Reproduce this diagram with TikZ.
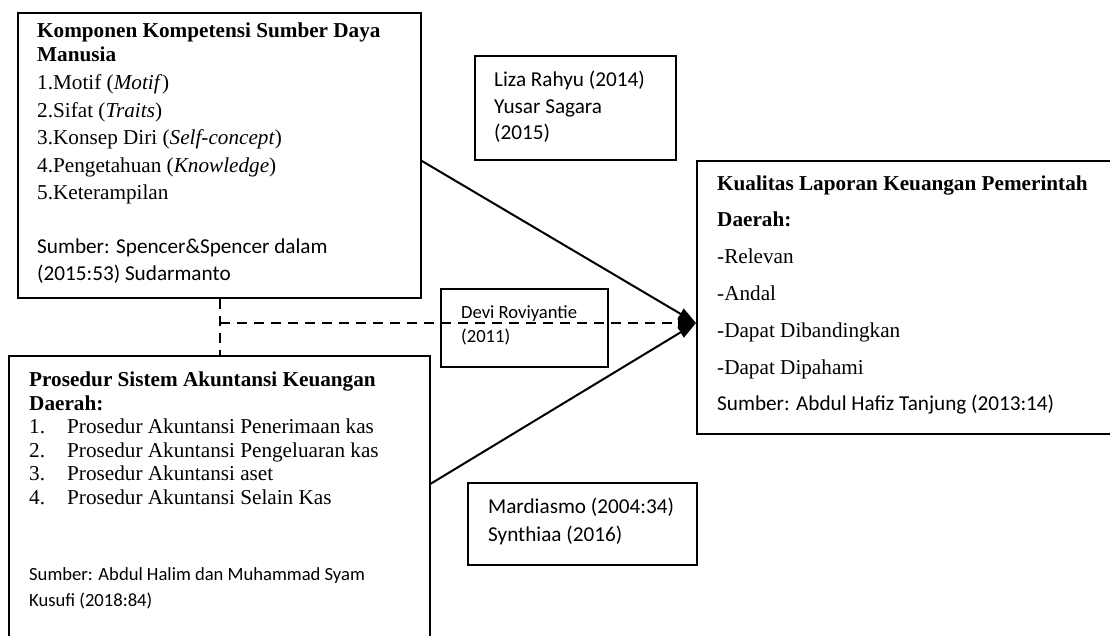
\documentclass[tikz,border=0pt]{standalone}
\usepackage{fontspec}
\setmainfont{Liberation Serif}
\newfontfamily\calfont{Carlito}
\usetikzlibrary{arrows.meta}
\begin{document}
\begin{tikzpicture}[x=1pt,y=-1pt,
  box/.style={draw=black,line width=1.6pt,inner sep=0pt,anchor=north west},
  tx/.style={anchor=base west,inner sep=0pt,font=\fontsize{21.2}{25}\selectfont},
  bx/.style={anchor=base west,inner sep=0pt,font=\bfseries\fontsize{21.2}{25}\selectfont},
  cx/.style={anchor=base west,inner sep=0pt,font=\calfont\fontsize{21.2}{25}\selectfont},
  sx/.style={anchor=base west,inner sep=0pt,font=\calfont\fontsize{18.6}{22}\selectfont},
  link/.style={line width=2pt,-{Triangle[length=18pt,width=12pt]}},
  dashlink/.style={line width=2.4pt,dash pattern=on 10pt off 7pt},
]
\useasboundingbox (0,0) rectangle (1110,635);
\clip (0,0) rectangle (1110,635);

% boxes
\node[box,minimum width=403pt,minimum height=285pt] (b1) at (17,12) {};
\node[box,minimum width=421pt,minimum height=300pt] (b2) at (8,355) {};
\node[box,minimum width=430pt,minimum height=273pt] (b3) at (696,160) {};
\node[box,minimum width=201pt,minimum height=104pt] (b4) at (474,55) {};
\node[box,minimum width=167pt,minimum height=78pt] (b5) at (440,288) {};
\node[box,minimum width=229pt,minimum height=82pt] (b6) at (467,482) {};

% box 1 text
\node[bx] (t1a) at (37,37) {Komponen Kompetensi Sumber Daya};
\node[bx] (t1b) at (37,61) {Manusia};
\node[tx] (t1c) at (37,89) {1.Motif (\textit{Motif})};
\node[tx] (t1d) at (37,117) {2.Sifat (\textit{Traits})};
\node[tx] (t1e) at (37,144) {3.Konsep Diri (\textit{Self-concept})};
\node[tx] (t1f) at (37,172) {4.Pengetahuan (\textit{Knowledge})};
\node[tx] (t1g) at (37,199) {5.Keterampilan};
\node[cx] (t1h) at (37,253) {Sumber: Spencer\&Spencer dalam};
\node[cx] (t1i) at (37,280) {(2015:53) Sudarmanto};

% box 2 text
\node[bx] (t2a) at (29,386) {Prosedur Sistem Akuntansi Keuangan};
\node[bx] (t2b) at (29,410) {Daerah:};
\node[tx] (n1) at (29,433) {1.};
\node[tx] (n2) at (29,457) {2.};
\node[tx] (n3) at (29,480) {3.};
\node[tx] (n4) at (29,504) {4.};
\node[tx] (t2c) at (67,433) {Prosedur Akuntansi Penerimaan kas};
\node[tx] (t2d) at (67,457) {Prosedur Akuntansi Pengeluaran kas};
\node[tx] (t2e) at (67,480) {Prosedur Akuntansi aset};
\node[tx] (t2f) at (67,504) {Prosedur Akuntansi Selain Kas};
\node[sx] (t2g) at (29,580) {Sumber: Abdul Halim dan Muhammad Syam};
\node[sx] (t2h) at (29,606) {Kusufi (2018:84)};

% box 3 text
\node[bx] (t3a) at (717,190) {Kualitas Laporan Keuangan Pemerintah};
\node[bx] (t3b) at (717,226) {Daerah:};
\node[tx] (t3c) at (717,263) {-Relevan};
\node[tx] (t3d) at (717,300) {-Andal};
\node[tx] (t3e) at (717,337) {-Dapat Dibandingkan};
\node[tx] (t3f) at (717,374) {-Dapat Dipahami};
\node[cx] (t3g) at (717,410) {Sumber: Abdul Hafiz Tanjung (2013:14)};

% small boxes text
\node[cx] (t4a) at (494,86) {Liza Rahyu (2014)};
\node[cx] (t4b) at (494,113) {Yusar Sagara};
\node[cx] (t4c) at (494,139) {(2015)};
\node[sx] (t5a) at (461,318) {Devi Roviyantie};
\node[sx] (t5b) at (461,342) {(2011)};
\node[cx] (t6a) at (488,513) {Mardiasmo (2004:34)};
\node[cx] (t6b) at (488,541) {Synthiaa (2016)};

% connectors
\coordinate (j) at (220,323);
\coordinate (tip) at (696,323);
\draw[dashlink] (b1.south -| j) -- (b2.north -| j);
\draw[dashlink,-{Triangle[length=18pt,width=12pt]}] (j) -- (tip);
\draw[link] ([yshift=-5.5pt]b1.east) -- (tip);
\draw[link] ([yshift=22pt]b2.east) -- (tip);
\end{tikzpicture}
\end{document}
